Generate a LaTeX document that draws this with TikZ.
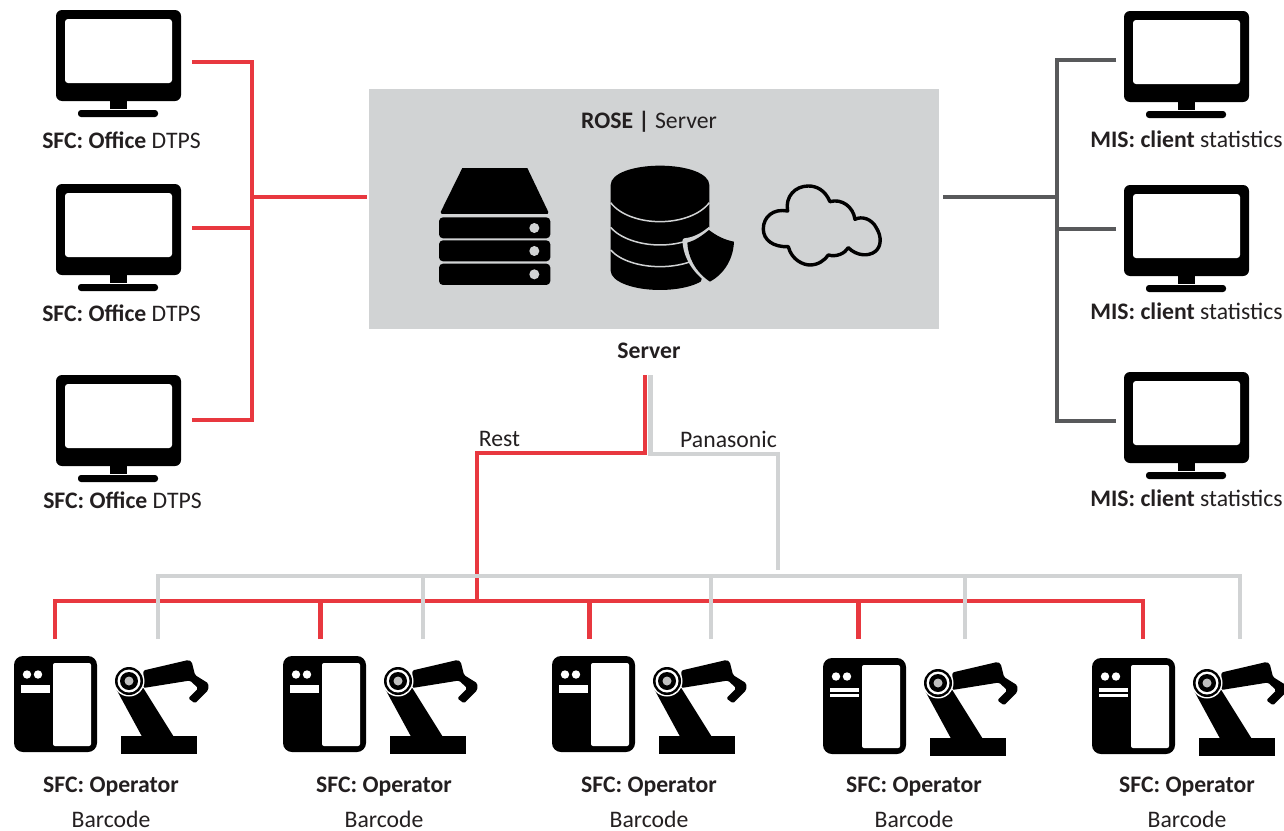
\documentclass[tikz,border=0pt]{standalone}
\usepackage{fontspec}
\setmainfont{Carlito}
\definecolor{redl}{HTML}{E8383F}
\definecolor{darkl}{HTML}{58595B}
\definecolor{lightl}{HTML}{D1D3D4}
\definecolor{txt}{HTML}{231F20}
\tikzset{
  wire/.style={line width=4.4pt,line join=miter,line cap=butt},
  redwire/.style={wire,draw=redl},
  darkwire/.style={wire,draw=darkl},
  lightwire/.style={wire,draw=lightl},
  lbl/.style={font=\fontsize{23.7}{26}\selectfont,text=txt,inner sep=0pt,anchor=center},
  monitor/.pic={
    \fill[black,rounded corners=6pt] (0,0) rectangle (125,91);
    \fill[white,rounded corners=3pt] (9,9) rectangle (116,73);
    \fill[black] (54,90) rectangle (71,99);
    \fill[black,rounded corners=3pt] (22,107) rectangle (102,100);
  },
  cabinet/.pic={
    \fill[black,rounded corners=9pt] (14,656) rectangle (97,752);
    \fill[white,rounded corners=2pt] (53,663) rectangle (91,746);
    \fill[white] (27,674.5) circle (4.2) (38,674.5) circle (4.2);
  },
  robot/.pic={
    \fill[black] (121,735.5) rectangle (197,754);
    \fill[black] (116.7,690) -- (143.3,688) -- (173.3,736) -- (141.7,736) -- cycle;
    \fill[black,line join=round,rounded corners=1.5pt] (143.3,670.5) -- (188.3,660) -- (191.7,661.7) -- (195,675) -- (208.3,683.3) -- (208.3,690)
       -- (195,703.3) -- (188.3,698.3) -- (198.3,688.3) -- (190,680.5) -- (143.3,688) -- cycle;
    \fill[white] (129,681) circle (15.5);
    \fill[black] (129,681) circle (14);
    \fill[white] (129,681) circle (11.5);
    \fill[black] (129,681) circle (9);
    \fill[white!75!black] (129,681) circle (4.5);
  }
}
\begin{document}
\begin{tikzpicture}[x=1pt,y=-1pt]
\useasboundingbox (0,0) rectangle (1284,830);
% server box
\node[fill=lightl,inner sep=0pt,minimum width=570pt,minimum height=240pt,anchor=north west] (srv) at (369,89) {};
\node[lbl] (srvt) at (649,122) {\textbf{ROSE |} Server};
\node[lbl] (srvl) at (649,351) {\textbf{Server}};
% server stack icon
\begin{scope}[shift={(420,150)},x=0.3333pt,y=-0.3333pt]
  \fill[black,line join=round] (127,54) -- (322,54) -- (385,186) -- (383,192) -- (65,192) -- (62,186) -- cycle;
  \foreach \yy/\yb in {202/265,271/334,341/405}{
    \fill[black,rounded corners=4pt] (57,\yy) rectangle (391,\yb);
  }
  \foreach \yy in {234,303,373}{\fill[lightl] (343,\yy) circle (15);}
\end{scope}
% database icon
\begin{scope}[shift={(420,150)},x=0.3333pt,y=-0.3333pt]
  \fill[black] (572,105) .. controls (572,70) and (640,47) .. (720,47) .. controls (800,47) and (868,70) .. (868,105)
     -- (868,362) .. controls (868,395) and (800,420) .. (720,420) .. controls (640,420) and (572,395) .. (572,362) -- cycle;
  \draw[lightl,line width=1.5pt] (572,158) .. controls (600,195) and (660,215) .. (720,215) .. controls (780,215) and (840,195) .. (868,158);
  \draw[lightl,line width=1.5pt] (572,232) .. controls (600,265) and (660,285) .. (720,285) .. controls (780,285) and (840,265) .. (868,232);
  \draw[lightl,line width=1.5pt] (572,300) .. controls (600,332) and (660,350) .. (720,350) .. controls (780,350) and (840,332) .. (868,300);
  \fill[lightl] (870,215) -- (900,215) -- (900,425) -- (835,425) -- (868,300) -- cycle;
  \path[fill=lightl,draw=lightl,line width=5pt,line join=round]
     (867,240) .. controls (890,258) and (915,270) .. (942,275) .. controls (940,325) and (915,370) .. (870,395)
     .. controls (825,365) and (797,320) .. (795,272) .. controls (820,270) and (845,258) .. (867,240) -- cycle;
  \fill[black]
     (867,240) .. controls (890,258) and (915,270) .. (942,275) .. controls (940,325) and (915,370) .. (870,395)
     .. controls (825,365) and (804,320) .. (802,278) .. controls (825,272) and (845,258) .. (867,240) -- cycle;
\end{scope}
% cloud icon
\begin{scope}[shift={(420,150)},x=0.3333pt,y=-0.3333pt]
  \draw[black,line width=3.4pt,line join=round]
    (1103,183) .. controls (1060,175) and (1030,200) .. (1030,237) .. controls (1030,270) and (1060,292) .. (1105,290)
    .. controls (1115,330) and (1150,345) .. (1170,345) .. controls (1195,345) and (1215,330) .. (1225,315)
    .. controls (1250,322) and (1275,310) .. (1285,293)
    .. controls (1310,318) and (1345,320) .. (1365,305) .. controls (1385,290) and (1385,260) .. (1370,235)
    .. controls (1355,205) and (1325,198) .. (1305,208)
    .. controls (1300,170) and (1265,145) .. (1230,155)
    .. controls (1215,120) and (1190,108) .. (1165,108) .. controls (1125,108) and (1095,140) .. (1103,183) -- cycle;
\end{scope}
% monitors
\foreach \n/\mx/\my in {a/56/10,b/56/184,c/56/375,d/1124/11,e/1124/185,f/1124/372}{
  \pic at (\mx,\my) {monitor};
}
\node[lbl] (la) at (121.5,140) {\textbf{SFC: Office} DTPS};
\node[lbl] (lb) at (121.5,313) {\textbf{SFC: Office} DTPS};
\node[lbl] (lc) at (122.5,500) {\textbf{SFC: Office} DTPS};
\node[lbl] (ld) at (1186.5,139) {\textbf{MIS: client} statistics};
\node[lbl] (le) at (1186.5,311) {\textbf{MIS: client} statistics};
\node[lbl] (lf) at (1186.5,498) {\textbf{MIS: client} statistics};
% ports
\coordinate (pa) at (192,62);
\coordinate (pb) at (192,228);
\coordinate (pc) at (192,420);
\coordinate (jl) at (252,197);
\coordinate (srvw) at (367,197);
\coordinate (pd) at (1116,60);
\coordinate (pe) at (1116,229);
\coordinate (pf) at (1116,421);
\coordinate (jr) at (1057,197);
\coordinate (srve) at (943,197);
\coordinate (rs) at (645,375);
\coordinate (gs) at (650.5,375);
\coordinate (rj) at (477,601);
\coordinate (gj) at (778,570);
% left red
\draw[redwire] (pa) -| (jl) |- (pc);
\draw[redwire] (pb) -- (pb -| jl);
\draw[redwire] (jl) -- (srvw);
% right dark
\draw[darkwire] (pd) -| (jr) |- (pf);
\draw[darkwire] (pe) -- (pe -| jr);
\draw[darkwire] (jr) -- (srve);
% devices
\foreach \i/\cx/\ry in {1/0/0,2/269/0,3/538/0,4/809/2,5/1078/2}{
  \pic at (\cx,\ry) {cabinet};
  \pic at (\cx,\ry) {robot};
}
\fill[white] (21,685) rectangle (50,693);
\fill[white] (290,685) rectangle (319,693);
\fill[white] (559,685) rectangle (588,693);
\foreach \cx in {809,1078}{
  \fill[white] (\cx+21,688) rectangle (\cx+50,691.5);
  \fill[white] (\cx+21,693.5) rectangle (\cx+50,697);
}
\foreach \n/\x in {1/158,2/423,3/711,4/965,5/1240}{
  \coordinate (g\n) at (\x,639);
  \coordinate (gt\n) at (\x,576);
}
\foreach \n/\x in {1/55,2/320,3/589,4/858,5/1143}{
  \coordinate (r\n) at (\x,639);
  \coordinate (rt\n) at (\x,601);
}
\draw[redwire] (r1) |- (rt5) -- (r5);
\foreach \n in {2,3,4}{\draw[redwire,line width=5pt] (r\n) -- (rt\n);}
\draw[redwire] (rs) -- ++(0,78) -| (rj);
\draw[lightwire] (gs) -- ++(0,79) -| (gj);
\draw[lightwire] (g1) |- (gt5) -- (g5);
\foreach \n in {2,3,4}{\draw[lightwire] (g\n) -- (gt\n);}
\node[lbl] (rest) at (499.5,439) {Rest};
\node[lbl] (pana) at (728.5,439) {Panasonic};
\foreach \n/\x in {1/111,2/384,3/649,4/914,5/1187}{
  \node[lbl] (op\n) at (\x,787) {\textbf{SFC: Operator}};
  \node[lbl] (bc\n) at (\x,819) {Barcode};
}
\end{tikzpicture}
\end{document}
